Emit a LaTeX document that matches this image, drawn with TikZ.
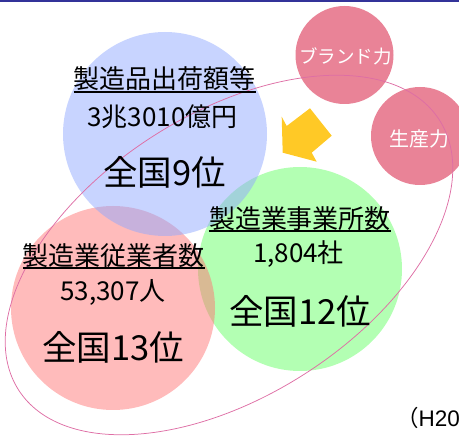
\documentclass[tikz,border=0pt]{standalone}
\usepackage{fontspec}
\setmainfont{Noto Sans CJK JP}
\newfontfamily\latinfont{Liberation Sans}
\definecolor{barblue}{RGB}{51,51,153}
\definecolor{cblue}{RGB}{145,169,255}
\definecolor{cgreen}{RGB}{103,255,103}
\definecolor{cred}{RGB}{255,119,119}
\definecolor{cpink}{RGB}{233,131,151}
\definecolor{ellcol}{RGB}{222,110,165}
\definecolor{arrowyellow}{RGB}{255,201,38}
\begin{document}
\begin{tikzpicture}[x=1pt,y=-1pt,
  bigcirc/.style={circle,minimum size=204pt,inner sep=0pt,fill opacity=0.5},
  smallcirc/.style={circle,minimum size=98pt,inner sep=0pt,fill=cpink},
  ttl/.style={anchor=base,inner sep=0pt,font=\fontsize{26pt}{26pt}\selectfont},
  num/.style={anchor=base,inner sep=0pt,font=\fontsize{26pt}{26pt}\selectfont},
  rank/.style={anchor=base,inner sep=0pt,font=\fontsize{34.5pt}{34.5pt}\selectfont},
  wtxt/.style={anchor=base,inner sep=0pt,text=white},
  uline/.style={line width=1.3pt,black}]
\useasboundingbox (0,0) rectangle (459,436);
\clip (0,0) rectangle (459,436);
\fill[barblue] (0,0) rectangle (459,2.2);
% big circles
\node[bigcirc,fill=cgreen] (green) at (300,269) {};
\node[bigcirc,fill=cred] (red) at (113,308) {};
\node[bigcirc,fill=cblue] (blue) at (165,134) {};
% small circles
\node[smallcirc] (brand) at (344.5,55) {};
\node[smallcirc] (prod) at (420,136) {};
\node[wtxt,font=\fontsize{18.5pt}{18.5pt}\selectfont] (brandt) at (345.5,64) {ブランド力};
\node[wtxt,font=\fontsize{20pt}{20pt}\selectfont] (prodt) at (419,147) {生産力};
% arrow
\fill[arrowyellow] (281.7,116.7) -- (286.7,126) -- (310,108.3) -- (331.7,135.7)
  -- (311.7,152.7) -- (316.7,161.7) -- (282.7,152.7) -- cycle;
% ellipse
\draw[ellcol,line width=0.75pt,rotate around={32.7:(229,255)}] (229,255) ellipse [x radius=250, y radius=141];
% blue texts
\node[ttl] (bt) at (164.7,89) {製造品出荷額等};
\draw[uline] ([yshift=-3pt]bt.base west) -- ([yshift=-3pt]bt.base east);
\node[num] (bn) at (162.5,127) {3兆3010億円};
\node[rank] (br) at (164.5,186) {全国9位};
% green texts
\node[ttl] (gt) at (300,229) {製造業事業所数};
\draw[uline] ([yshift=-2pt]gt.base west) -- ([yshift=-2pt]gt.base east);
\node[num] (gn) at (298.5,263) {1,804社};
\node[rank] (gr) at (300,324) {全国12位};
% red texts
\node[ttl] (rt) at (114,266) {製造業従業者数};
\draw[uline] ([yshift=-2pt]rt.base west) -- ([yshift=-2pt]rt.base east);
\node[num] (rn) at (113,301) {53,307人};
\node[rank] (rr) at (113,360) {全国13位};
% note
\node[anchor=base west,inner sep=0pt,font=\fontsize{22.5pt}{22.5pt}\selectfont] (note) at (396,427) {（{\latinfont H20}};
\end{tikzpicture}
\end{document}
